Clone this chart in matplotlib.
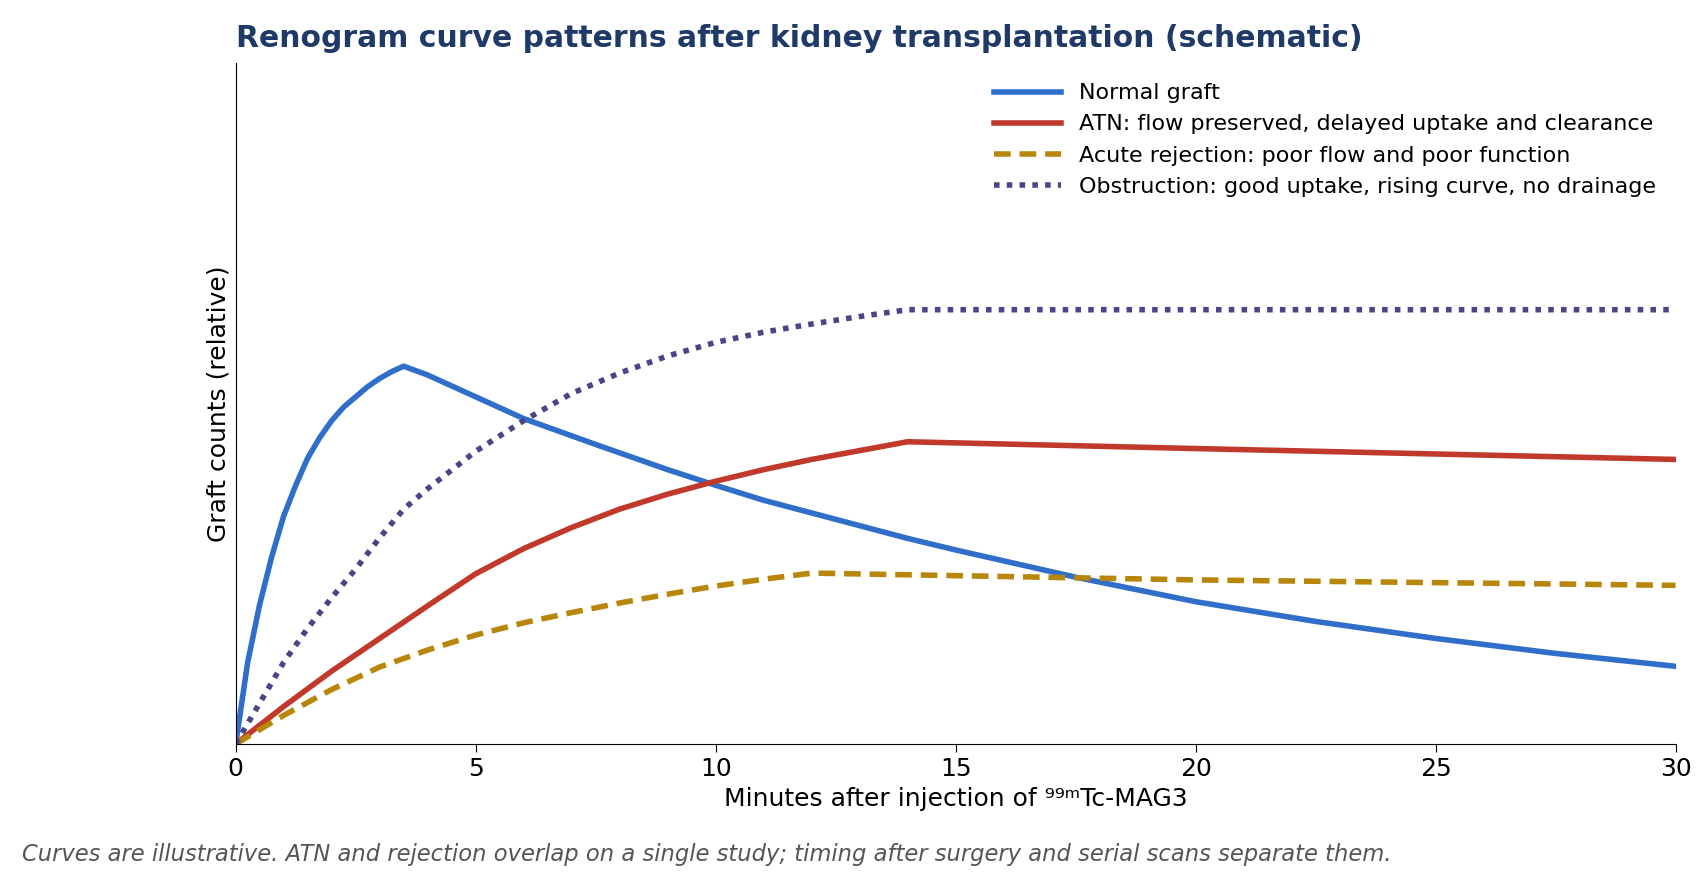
import matplotlib
matplotlib.use("Agg")
import matplotlib.pyplot as plt

t_normal = [0,0.25,0.5,0.75,1,1.25,1.5,1.75,2,2.25,2.5,2.75,3,3.25,3.5,4,5,6,7.5,9,10,11,12.5,14,15,17.5,20,22.5,25,27.5,30]
v_normal = [0,0.12,0.205,0.275,0.335,0.38,0.42,0.45,0.475,0.495,0.51,0.525,0.537,0.547,0.555,0.542,0.51,0.478,0.44,0.403,0.38,0.358,0.33,0.302,0.285,0.245,0.209,0.18,0.155,0.133,0.114]
t_atn = [0,1,2,3,4,5,6,7,8,9,10,11,12,13,14,20,30]
v_atn = [0,0.055,0.107,0.155,0.203,0.25,0.287,0.318,0.345,0.367,0.386,0.403,0.418,0.431,0.444,0.434,0.418]
t_rej = [0,1,2,3,4,5,6,7,8,9,10,11,12,20,30]
v_rej = [0,0.042,0.08,0.113,0.138,0.16,0.178,0.193,0.207,0.22,0.232,0.242,0.251,0.241,0.233]
t_obs = [0,0.5,1,1.5,2,2.5,3,3.5,4,5,6,7,8,9,10,11,12,13,14,30]
v_obs = [0,0.06,0.12,0.17,0.215,0.257,0.303,0.345,0.375,0.43,0.475,0.515,0.545,0.57,0.59,0.605,0.617,0.628,0.638,0.638]

labels = ["Normal graft",
          "ATN: flow preserved, delayed uptake and clearance",
          "Acute rejection: poor flow and poor function",
          "Obstruction: good uptake, rising curve, no drainage"]

fig = plt.figure(figsize=(17.08, 8.92), dpi=100)
ax = fig.add_axes([0.138, 0.166, 0.843, 0.763])
ax.plot(t_normal, v_normal, color="#2f6fca", lw=4, label=labels[0])
ax.plot(t_atn, v_atn, color="#c0392b", lw=4, label=labels[1])
ax.plot(t_rej, v_rej, color="#b8860b", lw=4, ls=(0, (3, 1.6)), label=labels[2])
ax.plot(t_obs, v_obs, color="#4b4486", lw=4, ls=(0, (1, 1.3)), label=labels[3])
ax.set_xlim(0, 30)
ax.set_ylim(0, 1)
ax.set_yticks([])
ax.spines["top"].set_visible(False)
ax.spines["right"].set_visible(False)
ax.tick_params(axis="x", labelsize=18, length=6)
ax.set_xlabel("Minutes after injection of \u2079\u2079\u1d50Tc-MAG3", fontsize=18, family=["DejaVu Sans"])
ax.set_ylabel("Graft counts (relative)", fontsize=18)
ax.set_title("Renogram curve patterns after kidney transplantation (schematic)",
             loc="left", fontsize=21.5, fontweight="bold", color="#1f3a68", pad=12)
ax.legend(loc="upper right", frameon=False, fontsize=16, handlelength=3, bbox_to_anchor=(1.0, 1.0))
fig.text(0.013, 0.035, "Curves are illustrative. ATN and rejection overlap on a single study; timing after surgery and serial scans separate them.",
         fontsize=16.3, style="italic", color="#555555")
fig.savefig("out.png", dpi=100)
